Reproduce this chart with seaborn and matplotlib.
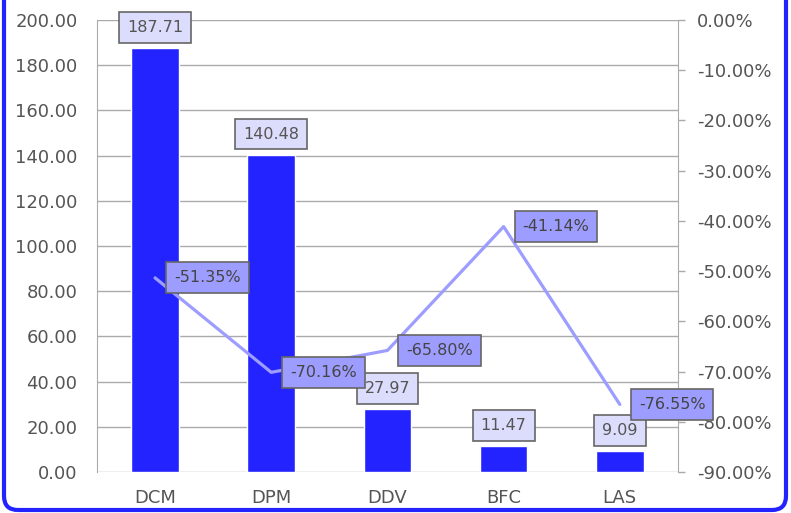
import matplotlib
matplotlib.use("Agg")
import matplotlib.pyplot as plt
import matplotlib.patches as mpatches
import matplotlib.transforms as mtransforms
import pandas as pd
import seaborn as sns

# data
categories = ["DCM", "DPM", "DDV", "BFC", "LAS"]
values = [187.71, 140.48, 27.97, 11.47, 9.09]
pct_change = [-51.35, -70.16, -65.80, -41.14, -76.55]

df = pd.DataFrame({"cat": categories, "val": values, "pct": pct_change})

sns.set_style("white")
plt.rcParams["font.family"] = ["DejaVu Sans"]

fig, ax = plt.subplots(figsize=(7.91, 5.13), dpi=100)
fig.subplots_adjust(left=0.1226, right=0.857, top=0.961, bottom=0.08)

bar_col = "#2323ff"
line_col = "#9d9dff"
txt_col = "#555555"
grid_col = "#aaaaaa"

sns.barplot(data=df, x="cat", y="val", color=bar_col, width=0.41,
            saturation=1, ax=ax, zorder=3)
ax.set_ylim(0, 200)
ax.set_yticks(range(0, 201, 20))
ax.set_yticklabels([f"{v:.2f}" for v in range(0, 201, 20)])
ax.set_xlabel("")
ax.set_ylabel("")
ax.yaxis.grid(True, color=grid_col, linewidth=1)
ax.set_axisbelow(True)
ax.tick_params(axis="y", length=0, pad=14, labelsize=13, labelcolor=txt_col)
ax.tick_params(axis="x", length=0, pad=12, labelsize=13, labelcolor=txt_col)
for s in ["top", "bottom", "right"]:
    ax.spines[s].set_visible(False)
ax.spines["left"].set_color(grid_col)

for i, v in enumerate(values):
    ax.annotate(f"{v:.2f}", (i, v), xytext=(0, 13), textcoords="offset pixels",
                ha="center", va="bottom", fontsize=11.5, color=txt_col, zorder=5,
                bbox=dict(boxstyle="square,pad=0.5", fc="#dcdcfc", ec="#666666", lw=1.2))

ax2 = ax.twinx()
sns.lineplot(x=list(range(len(categories))), y=[p / 100 for p in pct_change],
             color=line_col, linewidth=2.3, ax=ax2)
ax2.set_ylim(-0.9, 0)
ax2.set_yticks([-i / 10 for i in range(10)])
ax2.set_yticklabels([f"{-i * 10:.2f}%" for i in range(10)])
ax2.tick_params(axis="y", length=5, width=1, color=grid_col, pad=9,
                labelsize=13, labelcolor=txt_col)
for s in ["top", "bottom", "left"]:
    ax2.spines[s].set_visible(False)
ax2.spines["right"].set_color(grid_col)
ax2.set_ylabel("")
ax.set_xlim(-0.5, len(categories) - 0.5)

for i, p in enumerate(pct_change):
    ax2.annotate(f"{p:.2f}%", (i, p / 100), xytext=(19, 0), textcoords="offset pixels",
                 ha="left", va="center", fontsize=11.5, color="#444444", zorder=6,
                 bbox=dict(boxstyle="square,pad=0.5", fc="#9d9dff", ec="#666666", lw=1.2))

# rounded blue frame around the figure (top edge cut off)
frame = mpatches.FancyBboxPatch((4, 3), 782, 560,
                                boxstyle="round,pad=0,rounding_size=14",
                                fc="none", ec="#2323ff", lw=3,
                                transform=mtransforms.IdentityTransform())
fig.add_artist(frame)

fig.savefig("out.png", dpi=100)
